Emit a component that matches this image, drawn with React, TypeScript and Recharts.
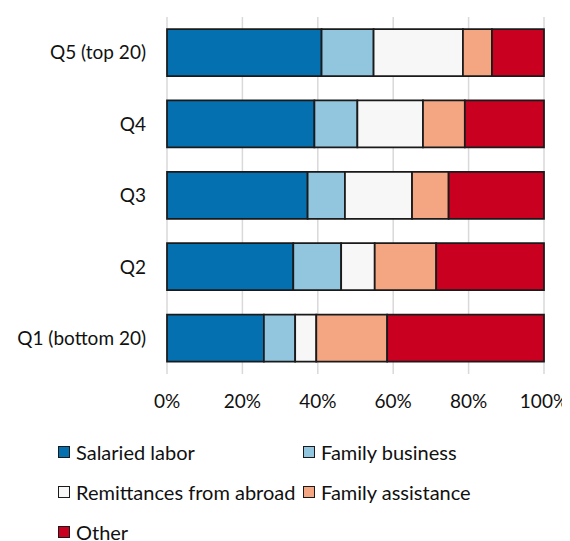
import { BarChart, Bar, XAxis, YAxis, CartesianGrid } from 'recharts';

const quintiles = ['Q5 (top 20)', 'Q4', 'Q3', 'Q2', 'Q1 (bottom 20)'];
const salaried = [41.0, 39.1, 37.3, 33.5, 25.7];
const familyBusiness = [13.8, 11.4, 9.9, 12.7, 8.3];
const remittances = [23.7, 17.4, 17.8, 8.9, 5.6];
const familyAssistance = [7.7, 11.1, 9.7, 16.3, 18.8];
const other = [13.8, 21.0, 25.3, 28.6, 41.6];
const xTicks = [0, 20, 40, 60, 80, 100];

const series = [
  { key: 'Salaried labor', values: salaried, color: '#0570B0' },
  { key: 'Family business', values: familyBusiness, color: '#92C5DE' },
  { key: 'Remittances from abroad', values: remittances, color: '#F7F7F7' },
  { key: 'Family assistance', values: familyAssistance, color: '#F4A582' },
  { key: 'Other', values: other, color: '#CA0020' },
];

const data = quintiles.map((name, i) => {
  const row: Record<string, string | number> = { name };
  series.forEach((s) => { row[s.key] = s.values[i]; });
  return row;
});

const font = 'Lato, "Open Sans", sans-serif';
const tick = { fill: '#111', fontSize: 19, fontFamily: font };

function LegendBox() {
  return (
    <div
      style={{
        display: 'grid',
        gridTemplateColumns: '245px 245px',
        gridAutoRows: '40px',
        marginLeft: 50,
        marginTop: 4,
        fontFamily: font,
        fontSize: 20,
        color: '#111',
      }}
    >
      {series.map((s) => (
        <div key={s.key} style={{ display: 'flex', alignItems: 'center', gap: 6, whiteSpace: 'nowrap' }}>
          <span
            style={{
              width: 10,
              height: 10,
              background: s.color,
              border: '1.5px solid #1a1a1a',
              display: 'inline-block',
              flexShrink: 0,
            }}
          />
          <span>{s.key}</span>
        </div>
      ))}
    </div>
  );
}

export default function App() {
  return (
    <div style={{ width: 562 }}>
      <BarChart
        width={562}
        height={420}
        data={data}
        layout="vertical"
        barSize={47}
        margin={{ top: 9, right: 26, left: 0, bottom: 0 }}
      >
        <CartesianGrid horizontal={false} stroke="#D9D9D9" strokeWidth={1.5} />
        <XAxis
          type="number"
          domain={[0, 100]}
          ticks={xTicks}
          tickFormatter={(v) => `${v}%`}
          axisLine={false}
          tickLine={false}
          tickSize={0}
          tickMargin={21}
          height={54}
          tick={tick}
          interval={0}
        />
        <YAxis
          type="category"
          dataKey="name"
          width={159}
          axisLine={false}
          tickLine={false}
          tickSize={0}
          tickMargin={21}
          tick={tick}
        />
        {series.map((s) => (
          <Bar
            key={s.key}
            dataKey={s.key}
            stackId="a"
            fill={s.color}
            stroke="#1a1a1a"
            strokeWidth={1.75}
            isAnimationActive={false}
          />
        ))}
      </BarChart>
      <LegendBox />
    </div>
  );
}
